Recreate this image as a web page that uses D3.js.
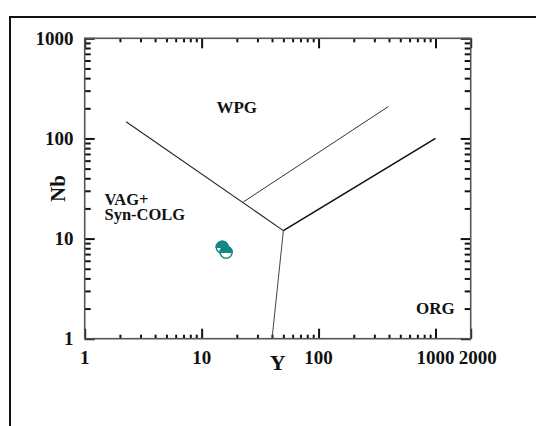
<!DOCTYPE html>
<html>
<head>
<meta charset="utf-8">
<script src="https://cdn.jsdelivr.net/npm/d3@7"></script>
<style>
  html, body { margin: 0; padding: 0; background: #fff; }
  svg { display: block; }
  text { font-family: "Liberation Serif", "Times New Roman", serif; font-weight: bold; fill: #111; }
</style>
</head>
<body>
<svg id="chart" width="536" height="426"></svg>
<script>
// Nb–Y tectonic discrimination diagram for granites (log–log)

// Axis ticks and labels
const xMajorTicks = [1, 10, 100, 1000, 2000];
const xTickLabels = ["1", "10", "100", "1000", "2000"];
const xMinorTicks = [2, 3, 4, 5, 6, 7, 8, 9, 20, 30, 40, 50, 60, 70, 80, 90, 200, 300, 400, 500, 600, 700, 800, 900];
const yMajorTicks = [1, 10, 100, 1000];
const yTickLabels = ["1", "10", "100", "1000"];
const yMinorTicks = [2, 3, 4, 5, 6, 7, 8, 9, 20, 30, 40, 50, 60, 70, 80, 90, 200, 300, 400, 500, 600, 700, 800, 900];

// Field boundaries as [Y, Nb] vertices
const boundaryVagWpg = [[2.26, 147], [50, 12]];
const boundaryVagOrg = [[40, 1], [50, 12]];
const boundaryWpgOrg = [[50, 12], [1000, 100]];
const boundaryWpgOrgUpper = [[22.7, 23.2], [395, 208]];

// Field names
const fieldNames = ["WPG", "VAG+", "Syn-COLG", "ORG"];

// Samples
const sampleY = [15, 16.2];
const sampleNb = [8.2, 7.3];

const svg = d3.select("#chart");
const plot = { left: 84.7, right: 470.7, top: 38.3, bottom: 338.7 };

const x = d3.scaleLog().domain([1, 2000]).range([plot.left, plot.right]);
const y = d3.scaleLog().domain([1, 1000]).range([plot.bottom, plot.top]);

// Outer frame (extends past the visible window on right and bottom)
svg.append("rect")
  .attr("x", 10).attr("y", 17)
  .attr("width", 700).attr("height", 700)
  .attr("fill", "none").attr("stroke", "#111").attr("stroke-width", 2);

// Ticks, all drawn inward
function tickAxis(axisFn, scale, values, size, transform) {
  const g = svg.append("g").attr("transform", transform)
    .call(axisFn(scale).tickValues(values).tickSize(-size).tickFormat(""));
  g.select(".domain").remove();
  g.selectAll(".tick line").attr("stroke", "#111").attr("stroke-width", 2);
  return g;
}
tickAxis(d3.axisBottom, x, xMajorTicks, 10, `translate(0,${plot.bottom})`);
tickAxis(d3.axisBottom, x, xMinorTicks, 4, `translate(0,${plot.bottom})`);
tickAxis(d3.axisTop, x, xMajorTicks, 10, `translate(0,${plot.top})`);
tickAxis(d3.axisTop, x, xMinorTicks, 4, `translate(0,${plot.top})`);
tickAxis(d3.axisLeft, y, yMajorTicks, 10, `translate(${plot.left},0)`);
tickAxis(d3.axisLeft, y, yMinorTicks, 6, `translate(${plot.left},0)`);
tickAxis(d3.axisRight, y, yMajorTicks, 10, `translate(${plot.right},0)`);
tickAxis(d3.axisRight, y, yMinorTicks, 6, `translate(${plot.right},0)`);

// Plot frame
svg.append("rect")
  .attr("x", plot.left).attr("y", plot.top)
  .attr("width", plot.right - plot.left).attr("height", plot.bottom - plot.top)
  .attr("fill", "none").attr("stroke", "#555").attr("stroke-width", 1.6);

// Tick labels
const xLabelShift = { 2000: 7 };
svg.append("g").selectAll("text")
  .data(xMajorTicks)
  .join("text")
  .attr("x", d => x(d) + (xLabelShift[d] || 0))
  .attr("y", 364)
  .attr("text-anchor", "middle")
  .attr("font-size", 19)
  .text((d, i) => xTickLabels[i]);

svg.append("g").selectAll("text")
  .data(yMajorTicks)
  .join("text")
  .attr("x", 73.5)
  .attr("y", d => y(d) + 6.3)
  .attr("text-anchor", "end")
  .attr("font-size", 19)
  .text((d, i) => yTickLabels[i]);

// Axis titles
svg.append("text")
  .attr("x", (plot.left + plot.right) / 2)
  .attr("y", 370)
  .attr("text-anchor", "middle")
  .attr("font-size", 22)
  .text("Y");

svg.append("text")
  .attr("transform", `translate(65,${(plot.top + plot.bottom) / 2}) rotate(-90)`)
  .attr("text-anchor", "middle")
  .attr("font-size", 21)
  .text("Nb");

// Field boundaries
const line = d3.line().x(d => x(d[0])).y(d => y(d[1]));
[[boundaryVagWpg, 1.1, "#222"], [boundaryVagOrg, 1, "#444"], [boundaryWpgOrg, 1.6, "#111"], [boundaryWpgOrgUpper, 1, "#333"]]
  .forEach(([pts, w, c]) => {
    svg.append("path").attr("d", line(pts))
      .attr("fill", "none").attr("stroke", c).attr("stroke-width", w);
  });

// Field names
const fieldLabels = svg.append("g").attr("font-size", 17);
fieldLabels.append("text").attr("x", 236.7).attr("y", 113.3).attr("text-anchor", "middle").text(fieldNames[0]);
fieldLabels.append("text").attr("x", 104.5).attr("y", 205).attr("font-size", 16.5).text(fieldNames[1]);
fieldLabels.append("text").attr("x", 104.5).attr("y", 219.5).attr("font-size", 16.5).text(fieldNames[2]);
fieldLabels.append("text").attr("x", 416).attr("y", 314.3).text(fieldNames[3]);

// Samples: half-filled circles (upper half solid)
const teal = "#138884";
const r = 6;
const samples = sampleY.map((v, i) => [v, sampleNb[i]]);
const pts = svg.append("g");
samples.forEach(([sy, snb]) => {
  const cx = x(sy), cy = y(snb);
  pts.append("circle").attr("cx", cx).attr("cy", cy).attr("r", r)
    .attr("fill", "#fff").attr("stroke", teal).attr("stroke-width", 1.4);
  pts.append("path")
    .attr("d", `M${cx - r},${cy} A${r},${r} 0 0 1 ${cx + r},${cy} Z`)
    .attr("fill", teal).attr("stroke", teal).attr("stroke-width", 1.4);
});
</script>
</body>
</html>
